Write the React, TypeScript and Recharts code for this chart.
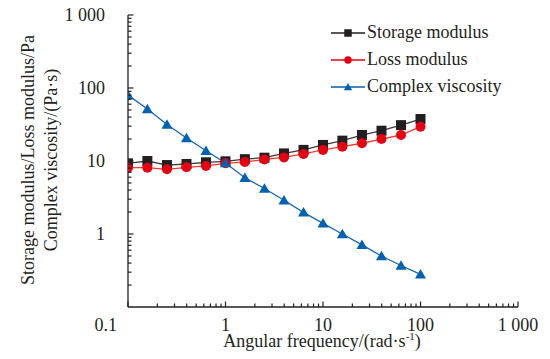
import React from 'react';
import { LineChart, Line, XAxis, YAxis, Legend } from 'recharts';

// angular frequency, rad/s
const omega = [0.1, 0.158, 0.251, 0.398, 0.631, 1, 1.58, 2.51, 3.98, 6.31, 10, 15.8, 25.1, 39.8, 63.1, 100];
const storageModulus = [9.3, 10, 8.8, 9.1, 9.6, 9.9, 10.6, 11.1, 12.7, 14.2, 16.6, 19, 22.7, 26, 31, 37.6];
const lossModulus = [8.1, 8.1, 7.7, 8.2, 8.55, 9.3, 9.7, 10.5, 11.2, 12.5, 14.2, 15.7, 17.5, 20, 22.7, 29.5];
const complexViscosity = [80, 51.5, 31.6, 20.7, 13.8, 9.4, 5.9, 4.2, 2.9, 1.98, 1.4, 1.0, 0.71, 0.5, 0.37, 0.28];

const xMajorTicks = [0.1, 1, 10, 100, 1000];
const yMajorTicks = [1, 10, 100, 1000];
const tickLabels: Record<number, string> = { 0.1: '0.1', 1: '1', 10: '10', 100: '100', 1000: '1 000' };

const minorSteps = [2, 3, 4, 5, 6, 7, 8, 9];
const withMinor = (majors: number[]) => {
  const out: number[] = [];
  majors.forEach((m, i) => {
    out.push(m);
    if (i < majors.length - 1) minorSteps.forEach((s) => out.push(+(m * s).toPrecision(3)));
  });
  return out;
};
const xTicks = withMinor(xMajorTicks);
const yTicks = withMinor([0.1, ...yMajorTicks]);

const data = omega.map((w, i) => ({
  w,
  storage: storageModulus[i],
  loss: lossModulus[i],
  viscosity: complexViscosity[i],
}));

const INK = '#231f20';
const FONT = 'Liberation Serif';

const series = [
  { key: 'storage', name: 'Storage modulus', line: '#3c3a3a', legendLine: INK, marker: INK, shape: 'square' },
  { key: 'loss', name: 'Loss modulus', line: '#ee3a2a', legendLine: '#e60012', marker: '#e60012', shape: 'circle' },
  { key: 'viscosity', name: 'Complex viscosity', line: '#1666b4', legendLine: '#0062b0', marker: '#0062b0', shape: 'triangle' },
];

const isMajor = (v: number) => tickLabels[v] !== undefined;

const Marker = ({ cx, cy, shape, color, size }: any) => {
  if (cx == null || cy == null) return null;
  const h = size / 2;
  if (shape === 'square') return <rect x={cx - h} y={cy - h} width={size} height={size} fill={color} />;
  if (shape === 'circle') return <circle cx={cx} cy={cy} r={h} fill={color} />;
  return (
    <polygon
      points={`${cx},${cy - h * 1.05} ${cx - h * 1.1},${cy + h * 0.85} ${cx + h * 1.1},${cy + h * 0.85}`}
      fill={color}
    />
  );
};

const XTick = (props: any) => {
  const { x, y, payload } = props;
  const v = payload.value;
  const major = isMajor(v);
  return (
    <g>
      <path d={`M${x},${y}V${y - (major ? 5.5 : 3.5)}`} stroke={INK} strokeWidth={1.2} fill="none" />
      {major && (
        <text
          x={v === 0.1 ? x - 11 : x}
          y={y + 24}
          textAnchor={v === 0.1 ? 'end' : 'middle'}
          style={{ fontFamily: FONT, fontSize: 18 }}
          fill={INK}
        >
          {tickLabels[v]}
        </text>
      )}
    </g>
  );
};

const YTick = (props: any) => {
  const { x, y, payload } = props;
  const v = payload.value;
  if (v === 0.1) return <g />;
  const major = isMajor(v);
  return (
    <g>
      <path d={`M${x},${y}H${x + (major ? 5.5 : 3.5)}`} stroke={INK} strokeWidth={1.2} fill="none" />
      {major && (
        <text x={x - 23} y={y + 6} textAnchor="end" style={{ fontFamily: FONT, fontSize: 18 }} fill={INK}>
          {tickLabels[v]}
        </text>
      )}
    </g>
  );
};

const LegendBox = () => (
  <div style={{ fontFamily: FONT, fontSize: 18, color: INK, lineHeight: '27px', whiteSpace: 'nowrap' }}>
    {series.map((s) => (
      <div key={s.key} style={{ display: 'flex', alignItems: 'center', height: 27 }}>
        <svg width={34} height={14} style={{ marginRight: 2 }}>
          <line x1={0} x2={34} y1={7} y2={7} stroke={s.legendLine} strokeWidth={1.3} />
          <Marker cx={17} cy={7} shape={s.shape} color={s.marker} size={7.5} />
        </svg>
        <span>{s.name}</span>
      </div>
    ))}
  </div>
);

const frame = { stroke: INK, strokeWidth: 1.3 };

export default function App() {
  return (
    <div style={{ position: 'absolute', left: 0, top: 0, width: 550, height: 359, background: '#fff' }}>
      <LineChart width={550} height={359} data={data} margin={{ top: 15, right: 32, bottom: 0, left: 0 }}>
        <XAxis
          dataKey="w"
          type="number"
          scale="log"
          domain={[0.1, 1000]}
          ticks={xTicks}
          interval={0}
          axisLine={frame}
          tickLine={false}
          tickSize={0}
          tickMargin={0}
          height={52}
          tick={XTick}
          allowDataOverflow
        />
        <XAxis xAxisId="top" orientation="top" type="number" scale="log" domain={[0.1, 1000]} height={0} tick={false} tickLine={false} axisLine={frame} />
        <YAxis
          type="number"
          scale="log"
          domain={[0.1, 1000]}
          ticks={yTicks}
          interval={0}
          axisLine={frame}
          tickLine={false}
          tickSize={0}
          tickMargin={0}
          width={128}
          tick={YTick}
          allowDataOverflow
        />
        <YAxis yAxisId="right" orientation="right" type="number" scale="log" domain={[0.1, 1000]} width={0} tick={false} tickLine={false} axisLine={frame} />
        {series.map((s) => (
          <Line
            key={s.key}
            dataKey={s.key}
            name={s.name}
            stroke={s.line}
            strokeWidth={1.3}
            isAnimationActive={false}
            dot={(p: any) => <Marker key={`${s.key}-${p.index}`} cx={p.cx} cy={p.cy} shape={s.shape} color={s.marker} size={10} />}
            activeDot={false}
          />
        ))}
        <Legend
          content={LegendBox}
          wrapperStyle={{ position: 'absolute', left: 331, top: 19, width: 200, height: 0, overflow: 'visible' }}
        />
      </LineChart>
      <svg width={550} height={359} style={{ position: 'absolute', left: 0, top: 0, pointerEvents: 'none' }}>
        <text x={322} y={347} textAnchor="middle" style={{ fontFamily: FONT, fontSize: 18 }} fill={INK}>
          Angular frequency/(rad·s<tspan dy={-7} fontSize={11}>-1</tspan>
          <tspan dy={7}>)</tspan>
        </text>
        <text x={34} y={160} transform="rotate(-90 34 160)" textAnchor="middle" style={{ fontFamily: FONT, fontSize: 18 }} fill={INK}>
          Storage modulus/Loss modulus/Pa
        </text>
        <text x={57} y={160} transform="rotate(-90 57 160)" textAnchor="middle" style={{ fontFamily: FONT, fontSize: 18 }} fill={INK}>
          Complex viscosity/(Pa·s)
        </text>
      </svg>
    </div>
  );
}
